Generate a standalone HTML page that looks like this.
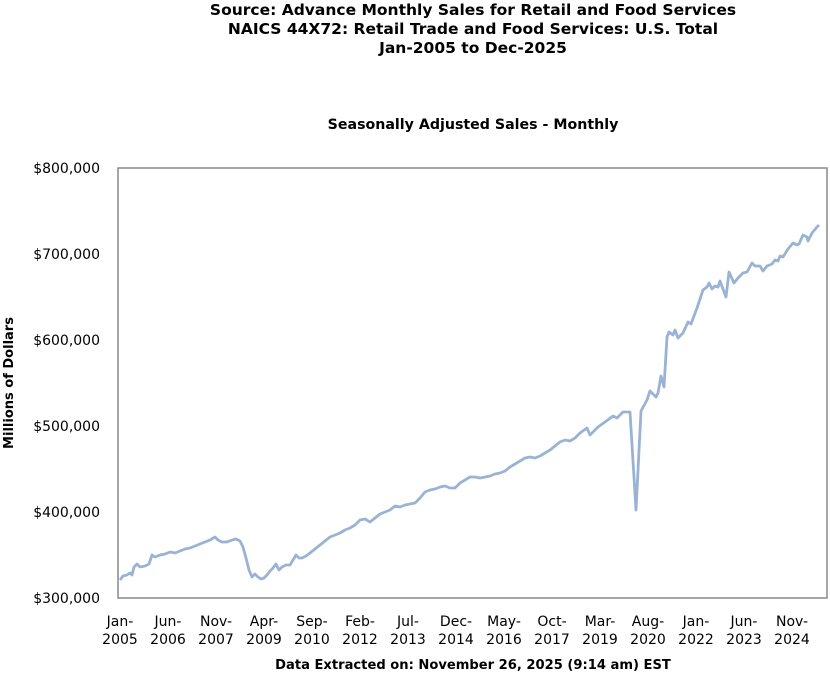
<!DOCTYPE html>
<html><head><meta charset="utf-8"><style>
body{margin:0;background:#fff;width:830px;height:677px;overflow:hidden}
svg text{font-family:"DejaVu Sans","Liberation Sans",sans-serif;fill:#000}
</style></head><body>
<svg width="830" height="677" xmlns="http://www.w3.org/2000/svg">
<text x="473" y="15" font-size="15.5" font-weight="bold" text-anchor="middle">Source: Advance Monthly Sales for Retail and Food Services</text>
<text x="473" y="34" font-size="15.5" font-weight="bold" text-anchor="middle">NAICS 44X72: Retail Trade and Food Services: U.S. Total</text>
<text x="473" y="53" font-size="15.5" font-weight="bold" text-anchor="middle">Jan-2005 to Dec-2025</text>
<text x="473" y="129" font-size="14.2" font-weight="bold" text-anchor="middle">Seasonally Adjusted Sales - Monthly</text>
<rect x="118" y="168" width="709" height="430" fill="#fff" stroke="#888" stroke-width="1.5"/>
<g font-size="14" text-anchor="end">
<text x="100" y="173">$800,000</text>
<text x="100" y="259">$700,000</text>
<text x="100" y="345">$600,000</text>
<text x="100" y="431">$500,000</text>
<text x="100" y="517">$400,000</text>
<text x="100" y="603">$300,000</text>
</g>
<text transform="translate(13,383) rotate(-90)" font-size="13" font-weight="bold" text-anchor="middle">Millions of Dollars</text>
<g font-size="14" text-anchor="middle">
<text x="120" y="626">Jan-</text><text x="120" y="644">2005</text>
<text x="168" y="626">Jun-</text><text x="168" y="644">2006</text>
<text x="216" y="626">Nov-</text><text x="216" y="644">2007</text>
<text x="264" y="626">Apr-</text><text x="264" y="644">2009</text>
<text x="312" y="626">Sep-</text><text x="312" y="644">2010</text>
<text x="360" y="626">Feb-</text><text x="360" y="644">2012</text>
<text x="408" y="626">Jul-</text><text x="408" y="644">2013</text>
<text x="456" y="626">Dec-</text><text x="456" y="644">2014</text>
<text x="504" y="626">May-</text><text x="504" y="644">2016</text>
<text x="552" y="626">Oct-</text><text x="552" y="644">2017</text>
<text x="600" y="626">Mar-</text><text x="600" y="644">2019</text>
<text x="648" y="626">Aug-</text><text x="648" y="644">2020</text>
<text x="696" y="626">Jan-</text><text x="696" y="644">2022</text>
<text x="744" y="626">Jun-</text><text x="744" y="644">2023</text>
<text x="792" y="626">Nov-</text><text x="792" y="644">2024</text>
</g>
<text x="473" y="669" font-size="13.1" font-weight="bold" text-anchor="middle">Data Extracted on: November 26, 2025 (9:14 am) EST</text>
<polyline fill="none" stroke="#9ab3d5" stroke-width="2.8" stroke-linejoin="round" points="120,580 123,576 127,575 130,573 132,575 134,567 137,564 140,567 145,566 149,564 152,555 155,557 160,555 165,554 170,552 175,553 180,551 185,549 190,548 195,546 200,544 205,542 210,540 215,537 218,540 222,542 227,542 232,540 236,539 240,541 243,547 246,558 249,570 252,577 255,574 258,577 261,579 264,578 267,575 270,571 273,568 276,564 279,570 282,567 286,565 290,565 293,560 296,555 299,558 302,558 306,556 310,553 315,549 320,545 325,541 330,537 335,535 340,533 345,530 350,528 355,525 360,520 365,519 370,522 375,518 380,514 385,512 390,510 395,506 400,507 405,505 410,504 415,503 420,498 425,492 430,490 435,489 440,487 445,486 450,488 455,488 460,483 465,480 470,477 475,477 480,478 485,477 490,476 495,474 500,473 505,471 510,467 515,464 520,461 525,458 530,457 535,458 540,456 545,453 550,450 555,446 560,442 565,440 570,441 575,438 580,433 587,428 590,435 598,427 605,422 613,416 617,418 623,412 630,412 636,510 641,411 647,400 650,391 656,397 658,393 661,376 664,387 667,337 669,332 673,335 675,330 678,338 683,333 688,322 691,324 697,308 703,290 707,287 709,283 712,289 715,286 718,287 720,281 726,297 729,272 734,283 738,278 743,273 747,272 752,263 755,266 760,266 763,271 767,266 772,264 775,260 778,261 780,256 783,257 788,249 793,243 797,245 799,244 803,235 807,237 808,241 812,233 817,227 819,225"/>
</svg>
</body></html>
